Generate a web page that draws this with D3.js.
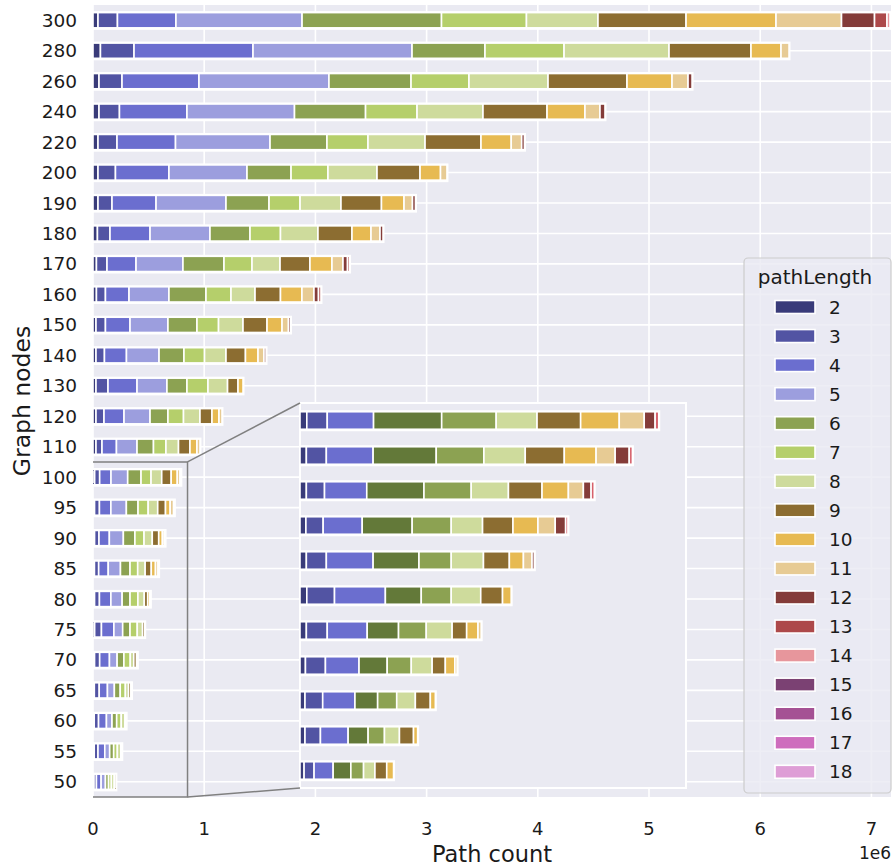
<!DOCTYPE html>
<html>
<head>
<meta charset="utf-8">
<script src="https://cdn.jsdelivr.net/npm/d3@7"></script>
<style>
  body { margin: 0; background: #ffffff; }
  text { font-family: "DejaVu Sans", sans-serif; fill: #1a1a1a; }
</style>
</head>
<body>
<svg id="chart" width="896" height="866"></svg>
<script>
// Graph sizes (number of nodes), top row first
const nodes = [300, 280, 260, 240, 220, 200, 190, 180, 170, 160, 150, 140, 130,
               120, 110, 100, 95, 90, 85, 80, 75, 70, 65, 60, 55, 50];

// Path counts per path length, in millions, aligned with `nodes`
const len2  = [0.045, 0.067, 0.054, 0.054, 0.045, 0.045, 0.045, 0.040, 0.031, 0.031, 0.027, 0.027, 0.027,
               0.027, 0.027, 0.015, 0.014, 0.014, 0.013, 0.014, 0.015, 0.014, 0.012, 0.011, 0.011, 0.009];
const len3  = [0.175, 0.302, 0.207, 0.184, 0.171, 0.157, 0.126, 0.113, 0.095, 0.081, 0.085, 0.076, 0.108,
               0.072, 0.054, 0.045, 0.044, 0.040, 0.038, 0.044, 0.061, 0.046, 0.044, 0.039, 0.034, 0.022];
const len4  = [0.526, 1.070, 0.692, 0.607, 0.526, 0.481, 0.396, 0.360, 0.261, 0.212, 0.221, 0.198, 0.261,
               0.180, 0.130, 0.102, 0.103, 0.093, 0.086, 0.103, 0.112, 0.088, 0.074, 0.071, 0.061, 0.042];
const len5  = [1.134, 1.430, 1.169, 0.967, 0.850, 0.702, 0.629, 0.539, 0.422, 0.359, 0.341, 0.293, 0.269,
               0.234, 0.185, 0.150, 0.139, 0.126, 0.110, 0.101, 0.079, 0.069, 0.062, 0.050, 0.044, 0.039];
const len6  = [1.254, 0.656, 0.738, 0.639, 0.512, 0.396, 0.387, 0.360, 0.369, 0.333, 0.261, 0.224, 0.180,
               0.161, 0.148, 0.120, 0.105, 0.104, 0.086, 0.071, 0.066, 0.061, 0.053, 0.042, 0.036, 0.028];
const len7  = [0.764, 0.711, 0.521, 0.463, 0.369, 0.332, 0.279, 0.274, 0.252, 0.225, 0.194, 0.185, 0.189,
               0.140, 0.112, 0.090, 0.091, 0.082, 0.069, 0.071, 0.065, 0.057, 0.046, 0.041, 0.033, 0.025];
const len8  = [0.643, 0.944, 0.711, 0.593, 0.513, 0.441, 0.368, 0.337, 0.252, 0.216, 0.220, 0.193, 0.176,
               0.148, 0.113, 0.096, 0.086, 0.074, 0.067, 0.057, 0.048, 0.032, 0.029, 0.033, 0.031, 0.026];
const len9  = [0.792, 0.737, 0.710, 0.576, 0.503, 0.387, 0.364, 0.306, 0.269, 0.229, 0.216, 0.175, 0.094,
               0.108, 0.103, 0.085, 0.070, 0.058, 0.055, 0.031, 0.019, 0.025, 0.021, 0.011, 0.009, 0.015];
const len10 = [0.809, 0.270, 0.405, 0.341, 0.272, 0.184, 0.203, 0.171, 0.198, 0.193, 0.135, 0.113, 0.045,
               0.063, 0.063, 0.055, 0.042, 0.033, 0.038, 0.019, 0, 0.007, 0.005, 0, 0, 0];
const len11 = [0.589, 0.072, 0.144, 0.135, 0.094, 0.058, 0.076, 0.081, 0.099, 0.108, 0.058, 0.054, 0,
               0.027, 0.027, 0.024, 0.031, 0.017, 0.023, 0.005, 0, 0, 0, 0, 0, 0];
const len12 = [0.297, 0, 0.036, 0.045, 0.025, 0, 0.027, 0.027, 0.041, 0.041, 0.018, 0.018, 0,
               0, 0, 0.008, 0.007, 0.007, 0.005, 0, 0, 0, 0, 0, 0, 0];
const len13 = [0.112, 0, 0, 0, 0, 0, 0, 0, 0.018, 0.022, 0, 0, 0,
               0, 0, 0, 0, 0, 0, 0, 0, 0, 0, 0, 0, 0];
const len14 = [0.027, 0, 0, 0, 0, 0, 0, 0, 0, 0, 0, 0, 0,
               0, 0, 0, 0, 0, 0, 0, 0, 0, 0, 0, 0, 0];

const pathLengths = [2, 3, 4, 5, 6, 7, 8, 9, 10, 11, 12, 13, 14, 15, 16, 17, 18];
const series = [len2, len3, len4, len5, len6, len7, len8, len9, len10, len11, len12, len13, len14];

// Main palette (one colour per path length 2..18)
const mainColors = ["#393b79", "#5254a3", "#6b6ecf", "#9c9ede", "#8ca252", "#b5cf6b", "#cedb9c",
                    "#8c6d31", "#e7ba52", "#e7cb94", "#843c39", "#ad494a", "#e7969c",
                    "#7b4173", "#a55194", "#ce6dbd", "#de9ed6"];
// Palette used by the zoomed panel
const insetColors = ["#393b79", "#5254a3", "#6b6ecf", "#637939", "#8ca252", "#cedb9c", "#8c6d31",
                     "#e7ba52", "#e7cb94", "#843c39", "#d6616b", "#e7969c", "#7b4173"];

const xTicks = [0, 1, 2, 3, 4, 5, 6, 7];
const insetNodes = [100, 95, 90, 85, 80, 75, 70, 65, 60, 55, 50];
const insetMax = 0.85;

// Build stacked rows
const rows = nodes.map((n, i) => {
  let acc = 0;
  const segs = [];
  series.forEach((s, k) => {
    const v = s[i];
    if (v > 0) segs.push({ k, x0: acc, x1: acc + v });
    acc += v;
  });
  return { node: n, segs, total: acc };
});

const svg = d3.select("#chart");
const bg = "#eaeaf2";

// ---------- main axes ----------
const x = d3.scaleLinear().domain([0, 7.176]).range([93, 891]);
const y = d3.scaleBand().domain(nodes).range([5, 797]).padding(0);

svg.append("rect").attr("x", 93).attr("y", 5).attr("width", 891 - 93).attr("height", 792).attr("fill", bg);

const grid = svg.append("g");
grid.selectAll("line.v").data(xTicks).join("line")
  .attr("x1", d => x(d)).attr("x2", d => x(d)).attr("y1", 5).attr("y2", 797)
  .attr("stroke", "#fff").attr("stroke-width", 1.6);
grid.selectAll("line.h").data(nodes).join("line")
  .attr("x1", 93).attr("x2", 891)
  .attr("y1", d => y(d) + y.bandwidth() / 2).attr("y2", d => y(d) + y.bandwidth() / 2)
  .attr("stroke", "#fff").attr("stroke-width", 1.6);

// zoom indicator box (top, right and bottom edges)
const zTop = y(100), zBottom = 797, zRight = x(insetMax);
svg.append("path")
  .attr("d", `M${x(0)},${zTop}H${zRight}V${zBottom}H${x(0)}`)
  .attr("fill", "none").attr("stroke", "#808080").attr("stroke-width", 1.5);

function drawBars(g, xs, ys, data, colors) {
  const h = ys.bandwidth() * 0.5;
  const rg = g.selectAll("g.row").data(data).join("g").attr("class", "row")
    .attr("transform", d => `translate(0,${ys(d.node) + ys.bandwidth() / 2})`);
  rg.append("rect")
    .attr("x", xs(0) - 1).attr("y", -h / 2 - 1.5)
    .attr("width", d => xs(d.total) - xs(0) + 2.5).attr("height", h + 3.5)
    .attr("fill", "#fff");
  rg.selectAll("rect.seg").data(d => d.segs).join("rect").attr("class", "seg")
    .attr("x", s => xs(s.x0)).attr("y", -h / 2)
    .attr("width", s => Math.max(0, xs(s.x1) - xs(s.x0))).attr("height", h)
    .attr("fill", s => colors[s.k]).attr("stroke", "#fff").attr("stroke-width", 1.6);
}
drawBars(svg.append("g"), x, y, rows, mainColors);

// ---------- inset ----------
const xi = d3.scaleLinear().domain([0, insetMax]).range([300, 686]);
const yi = d3.scaleBand().domain(insetNodes).range([403, 788]).padding(0);
svg.append("rect").attr("x", 300).attr("y", 403).attr("width", 386).attr("height", 385)
  .attr("fill", bg).attr("stroke", "#fff").attr("stroke-width", 2);
drawBars(svg.append("g"), xi, yi, rows.filter(r => insetNodes.includes(r.node)), insetColors);

// connectors
svg.append("line").attr("x1", zRight).attr("y1", zTop).attr("x2", 300).attr("y2", 403)
  .attr("stroke", "#808080").attr("stroke-width", 1.5);
svg.append("line").attr("x1", zRight).attr("y1", zBottom).attr("x2", 300).attr("y2", 788)
  .attr("stroke", "#808080").attr("stroke-width", 1.5);

// ---------- tick labels & axis titles ----------
svg.append("g").selectAll("text").data(nodes).join("text")
  .attr("x", 77).attr("y", d => y(d) + y.bandwidth() / 2)
  .attr("text-anchor", "end").attr("dominant-baseline", "central")
  .attr("font-size", 18.5).text(d => d);

svg.append("g").selectAll("text").data(xTicks).join("text")
  .attr("x", d => x(d)).attr("y", 828)
  .attr("text-anchor", "middle").attr("dominant-baseline", "central")
  .attr("font-size", 18).text(d => d);

svg.append("text").attr("x", 891).attr("y", 853).attr("text-anchor", "end")
  .attr("dominant-baseline", "central").attr("font-size", 17).text("1e6");

svg.append("text").attr("x", 492).attr("y", 854).attr("text-anchor", "middle")
  .attr("dominant-baseline", "central").attr("font-size", 22.5).text("Path count");

svg.append("text").attr("transform", "translate(22,401) rotate(-90)").attr("text-anchor", "middle")
  .attr("dominant-baseline", "central").attr("font-size", 23.5).text("Graph nodes");

// ---------- legend ----------
const lg = svg.append("g");
lg.append("rect").attr("x", 744).attr("y", 258).attr("width", 147).attr("height", 535).attr("rx", 4)
  .attr("fill", bg).attr("fill-opacity", 0.8).attr("stroke", "#cccccc").attr("stroke-width", 1.2);
lg.append("text").attr("x", 815).attr("y", 277).attr("text-anchor", "middle")
  .attr("dominant-baseline", "central").attr("font-size", 20).text("pathLength");
const item = lg.selectAll("g.item").data(pathLengths).join("g").attr("class", "item")
  .attr("transform", (d, i) => `translate(0,${307 + i * 29.05})`);
item.append("rect").attr("x", 775).attr("y", -6.5).attr("width", 40).attr("height", 13)
  .attr("fill", (d, i) => mainColors[i]).attr("stroke", "#fff").attr("stroke-width", 1.6);
item.append("text").attr("x", 829).attr("y", 0).attr("dominant-baseline", "central")
  .attr("font-size", 18.5).text(d => d);
</script>
</body>
</html>
